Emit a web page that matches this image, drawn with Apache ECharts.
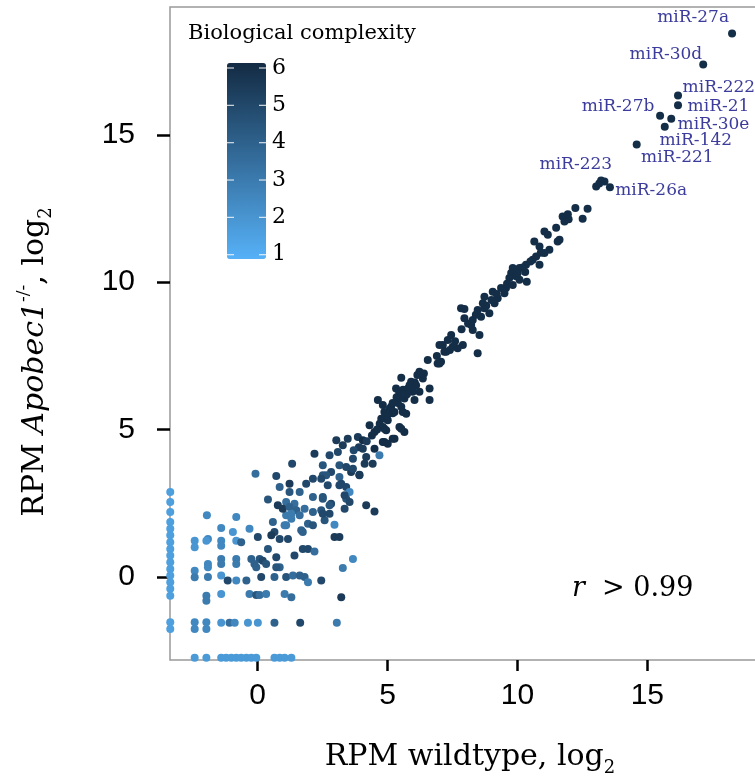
<!DOCTYPE html>
<html><head><meta charset="utf-8">
<script src="https://cdn.jsdelivr.net/npm/echarts@6/dist/echarts.min.js"></script>
<style>html,body{margin:0;padding:0;background:#fff;overflow:hidden}#c{width:755px;height:781px}</style>
</head><body><div id="c"></div><script>
// ---- tick labels ----
const xTicks = [0, 5, 10, 15];
const yTicks = [0, 5, 10, 15];
const legendTicks = [1, 2, 3, 4, 5, 6];

// ---- data: [RPM wildtype log2, RPM Apobec1-/- log2, biological complexity] ----
const upperBand = [
  [11.74,12.23,6],[11.94,12.31,6],[12.23,12.52,6],[12.70,12.49,6],[12.51,12.15,6],[11.81,12.06,6],[11.49,11.85,6],
  [11.97,12.14,6],[11.04,11.72,6],[11.17,11.61,6],[11.55,11.38,6],[11.62,11.44,6],[10.65,11.38,6],[10.85,11.21,6],
  [11.23,11.10,6],[11.04,10.99,6],[10.72,10.87,6],[10.59,10.76,6],[10.85,10.59,6],[10.33,10.59,6],[10.08,10.48,6],
  [9.82,10.48,6],[9.76,10.31,6],[10.01,10.31,6],[9.69,10.14,6],[10.08,10.08,6],[10.36,10.02,6],[9.82,9.91,6],
  [9.56,9.80,6],[9.37,9.80,6],[9.05,9.68,6],[9.50,9.63,6],[8.73,9.51,6],[9.24,9.46,6],[9.12,9.29,6],[8.67,9.29,6],
  [8.73,9.12,6],[8.47,9.06,6],[8.92,8.95,6],[7.83,9.12,6],[7.96,9.09,6],[7.96,8.78,6],[8.28,8.72,6],[8.60,8.83,6],
  [8.22,8.55,6],[8.28,8.38,6],[8.54,8.21,6],[7.45,8.21,6],[7.32,8.04,6],[7.90,7.87,6],[7.70,7.76,6],[7.51,7.81,6],
  [7.13,7.87,6],[7.19,7.64,6],[8.47,7.59,6],[7.06,7.30,6],[7.00,7.87,6],[7.26,7.64,6],
  [10.20,10.50,6],[10.50,10.70,6],[10.90,11.00,6],[10.30,10.35,6],[9.95,10.20,6],[9.60,9.95,6],[9.20,9.60,6],
  [9.00,9.40,6],[8.80,9.20,6],[8.40,8.90,6],[8.10,8.60,6],[7.85,8.40,6],[7.60,8.00,6],[7.40,7.70,6],[6.90,7.50,6]
];
const middleBand = [
  [6.55,7.36,6],[6.23,6.96,6],[6.93,7.24,6],[5.53,6.76,6],[5.91,6.62,6],[6.36,6.73,6],[6.62,6.39,6],[6.62,6.00,6],
  [5.97,6.28,6],[5.33,6.39,6],[5.65,6.05,6],[6.04,6.00,6],[5.08,5.71,6],[4.82,5.83,6],[5.27,5.60,6],[5.59,5.60,6],
  [4.95,5.37,6],[5.46,5.09,6],[5.65,4.92,6],[4.88,5.03,6],[5.20,4.69,6],[4.82,4.58,6],[7.00,7.24,6],[6.23,6.28,6],
  [4.63,6.00,6],[5.14,5.77,6],[5.53,5.77,6],[4.88,5.60,6],[5.72,5.54,6],[4.76,5.37,6],[5.01,5.32,6],[4.31,5.15,6],
  [5.53,5.03,6],[4.82,5.09,6],[4.95,4.98,6],[3.86,4.75,5.5],[4.50,4.92,6],[3.47,4.69,5.5],[3.03,4.64,5.5],[4.05,4.64,6],
  [5.27,4.69,6],[4.88,4.58,6],[4.50,4.35,6],[5.01,4.52,6],[4.05,4.35,5.5],[3.28,4.47,5.5],[3.09,4.24,5],[2.77,4.13,5],
  [4.18,4.07,5.5],[3.67,4.01,5],[4.69,4.13,3],[4.43,3.84,5.5],[4.12,3.84,5.5],[3.15,3.79,4.5],[2.51,3.79,4.5],
  [3.41,3.73,5],[3.67,3.67,5],[3.92,3.45,5.5],[2.64,3.45,4.5],[2.45,3.33,5],[3.15,3.39,4],[3.22,3.16,5],[2.70,3.11,5],
  [3.54,2.88,2.5],[3.35,2.77,5],[2.51,2.71,4.5],[4.18,2.43,5.5],[4.50,2.22,5.5],[3.35,2.31,5],[2.77,2.43,4.5],[2.51,2.14,5],
  [5.35,6.10,6],[5.45,6.25,6],[5.60,6.35,6],[5.75,6.20,6],[5.85,6.50,6],[6.05,6.60,6],[6.15,6.85,6],[5.40,5.90,6],
  [5.20,5.55,6],[5.00,5.50,6],[4.70,5.20,6],[4.60,5.00,6],[4.40,4.80,6],[4.20,4.60,5.5],[3.90,4.40,5.5],[3.70,4.30,5],
  [6.40,6.90,6],[6.10,6.50,6],[5.80,6.40,6],[5.50,6.10,6],[5.20,5.90,6],[1.33,3.84,5],[2.19,4.18,5.5]
];
const lowerCluster = [
  [2.83,3.56,5],[2.51,3.45,4.5],[3.60,3.56,5.5],[3.92,3.47,5.5],[2.13,3.33,5],[1.87,3.16,5],[3.15,3.11,5],[3.41,3.05,5],
  [1.23,3.16,5.5],[1.23,2.88,4.5],[1.62,2.88,4],[2.13,2.71,4],[2.51,2.65,4.5],[2.83,2.48,5],[3.41,2.65,4.5],[3.54,2.54,5],
  [1.10,2.54,3.5],[1.42,2.48,3.5],[1.49,2.26,4],[1.81,2.31,3.5],[2.13,2.20,4],[2.45,2.26,4.5],[2.77,2.14,5],[2.58,1.92,4.5],
  [1.10,2.09,3],[1.30,1.97,3],[1.62,2.09,3.5],[1.94,1.80,4],[2.13,1.75,4.5],[1.10,1.75,3],[1.68,1.58,4],[1.74,1.52,4],
  [2.96,1.77,2.5],[2.96,1.35,5.5],[3.15,1.35,5.5],[1.74,0.95,5],[1.94,0.95,5],[2.19,0.86,3.5],[1.42,0.73,5],[3.67,0.61,2.5],
  [3.28,0.30,3],[0.85,0.33,4],[1.10,0.00,4.5],[1.36,0.05,3.5],[1.62,0.05,4],[1.81,0.00,4],[1.94,-0.18,3],[2.45,-0.12,5],
  [1.04,-0.58,3],[1.30,-0.69,3.5],[3.22,-0.69,5.5],[1.64,-1.56,5],[3.05,-1.56,3],
  [-0.08,3.50,3.5],[0.72,3.42,5],[0.85,3.05,4],[0.40,2.63,4.5],[0.78,2.43,5.5],[0.97,2.31,5.5],[1.23,2.37,4],[1.30,2.14,3],
  [0.59,1.86,4],[1.04,1.75,3],[0.65,1.52,5],[0.53,1.41,5.5],[0.85,1.29,5],[1.17,1.29,5],[0.01,1.35,5],[-0.31,1.63,2.5],
  [-1.95,2.09,2.5],[-0.82,2.03,2.5],[-1.40,1.66,2.5],[-0.95,1.52,2],[-0.82,1.23,2],[-0.63,1.18,4],[-2.42,1.23,2],[-2.42,1.01,2],
  [-1.91,1.29,2.5],[-1.97,1.23,2],[-1.40,1.23,2.5],[-1.40,1.06,2.5],[0.40,0.95,4.5],[0.08,0.61,4.5],[-0.24,0.61,4],[-0.12,0.44,4],
  [-0.05,0.33,4],[0.20,0.55,5],[0.33,0.44,4.5],[0.72,0.67,5],[0.72,0.33,4.5],[-1.40,0.61,3],[-1.40,0.44,3],[-0.82,0.61,3],
  [-0.82,0.44,3],[-1.91,0.44,2.5],[-1.91,0.33,2.5],[-2.42,0.21,2.5],[-2.42,-0.01,3],[-1.91,0.00,3],[-1.40,0.05,2],[-1.15,-0.12,5],
  [-0.82,-0.12,2.5],[-0.43,-0.12,4],[0.14,0.00,5],[0.65,0.00,4],[-1.40,-0.58,2],[-1.97,-0.64,3],[-1.97,-0.81,3],[-0.31,-0.58,3],
  [-0.05,-0.61,4.5],[0.08,-0.61,3.5],[0.33,-0.58,3],[-2.42,-1.54,2.5],[-2.42,-1.77,2.5],[-1.97,-1.54,2.5],[-1.97,-1.77,2.5],
  [-1.40,-1.56,2],[-1.08,-1.56,3.5],[-0.88,-1.56,2.5],[-0.37,-1.56,2],[0.01,-1.56,2],[0.65,-1.56,4]
];
const leftEdge = [
  [-3.36,2.88,1.6],[-3.36,2.54,1.6],[-3.36,2.20,1.6],[-3.36,1.86,1.6],[-3.36,1.63,1.6],[-3.36,1.41,1.6],[-3.36,1.18,1.6],
  [-3.36,0.95,1.6],[-3.36,0.73,1.6],[-3.36,0.50,1.6],[-3.36,0.27,1.6],[-3.36,0.05,1.6],[-3.36,-0.18,1.6],[-3.36,-0.40,1.6],
  [-3.36,-0.64,1.6],[-3.36,-1.54,1.6],[-3.36,-1.77,1.6]
];
const bottomRow = [
  [-2.42,-2.74,1.8],[-1.97,-2.74,1.8],[-1.40,-2.74,1.8],[-1.21,-2.74,1.8],[-1.01,-2.74,1.8],[-0.82,-2.74,1.8],[-0.63,-2.74,1.8],
  [-0.43,-2.74,1.8],[-0.24,-2.74,1.8],[-0.05,-2.74,1.8],[0.65,-2.74,1.8],[0.85,-2.74,1.8],[1.04,-2.74,1.8],[1.30,-2.74,1.8]
];
// labelled miRNAs
const mirNames = ['miR-27a','miR-30d','miR-222','miR-21','miR-27b','miR-30e','miR-142','miR-221','miR-223','miR-26a'];
const mirWT    = [18.26, 17.15, 16.18, 16.18, 15.49, 15.92, 15.67, 14.59, 13.22, 13.56];
const mirKO    = [18.44, 17.39, 16.34, 16.01, 15.65, 15.55, 15.28, 14.67, 13.45, 13.22];
const mirCx    = [6, 6, 6, 6, 6, 6, 6, 6, 6, 6];
const extraTop = [[13.03,13.25,6],[13.35,13.42,6],[13.15,13.35,6]];

// label offsets (style only): [dx, dy, align]
const labelOffsets = [[-3,-16,'right'],[-1,-10,'right'],[4.6,-8,'left'],[9.6,1.7,'left'],[-5.7,-9,'right'],
  [6.3,6,'left'],[-5.3,14,'left'],[4.4,13.3,'left'],[11,-16,'right'],[5.3,3.4,'left']];

const SERIF = 'DejaVu Serif';
const SANS = 'Liberation Sans';
const mainPts = [].concat(leftEdge, bottomRow, lowerCluster, middleBand, upperBand, extraTop);
const mirData = mirNames.map((n, i) => ({
  name: n, value: [mirWT[i], mirKO[i], mirCx[i]],
  label: { position: [labelOffsets[i][0] + 4, labelOffsets[i][1] + 4], align: labelOffsets[i][2] }
}));

// legend geometry (style)
const LG = { left: 227, top: 63, w: 39, h: 196, vmin: 0.885, vmax: 6.134 };
const vy = v => LG.top + (LG.vmax - v) / (LG.vmax - LG.vmin) * LG.h;
const graphics = [
  { type: 'text', left: 188, top: 23, style: { text: 'Biological complexity', font: '21px "DejaVu Serif"', fill: '#000' } },
  { type: 'text', left: 572, top: 575, style: { text: '{i|r}  > 0.99', rich: { i: { fontStyle: 'italic', fontSize: 27, fontFamily: SERIF } }, fontSize: 27, fontFamily: SERIF, fill: '#000' } },
  { type: 'text', x: 470, y: 757, style: {
      text: 'RPM wildtype, log{sub|2}', align: 'center', verticalAlign: 'middle', fill: '#000',
      fontSize: 30, fontFamily: SERIF, lineHeight: 40,
      rich: { sub: { fontSize: 18, fontFamily: SERIF, lineHeight: 18, verticalAlign: 'bottom' } } } },
  { type: 'text', x: 35, y: 362, rotation: Math.PI / 2, style: {
      text: 'RPM {it|Apobec1}{sup|-/-}, log{sub|2}', align: 'center', verticalAlign: 'middle', fill: '#000',
      fontSize: 30, fontFamily: SERIF, lineHeight: 40,
      rich: { it: { fontStyle: 'italic', fontSize: 30, fontFamily: SERIF, lineHeight: 40 },
              sup: { fontSize: 17, fontFamily: SERIF, lineHeight: 17, verticalAlign: 'top' },
              sub: { fontSize: 18, fontFamily: SERIF, lineHeight: 18, verticalAlign: 'bottom' } } } }
];
legendTicks.forEach(v => {
  const y = vy(v);
  graphics.push({ type: 'line', z: 100, shape: { x1: LG.left, y1: y, x2: LG.left + 7, y2: y }, style: { stroke: 'rgba(255,255,255,0.8)', lineWidth: 1.2 } });
  graphics.push({ type: 'line', z: 100, shape: { x1: LG.left + LG.w - 7, y1: y, x2: LG.left + LG.w, y2: y }, style: { stroke: 'rgba(255,255,255,0.8)', lineWidth: 1.2 } });
  graphics.push({ type: 'text', x: LG.left + LG.w + 6, y: y, style: { text: String(v), font: '22px "DejaVu Serif"', fill: '#000', verticalAlign: 'middle' } });
});

const chart = echarts.init(document.getElementById('c'));
chart.setOption({
  animation: false,
  backgroundColor: '#fff',
  grid: { left: 170, width: 600, top: 7, bottom: 121, show: true, borderColor: '#999', borderWidth: 1.5, backgroundColor: '#fff',
          containLabel: false, outerBoundsMode: 'none' },
  xAxis: {
    type: 'value', min: -3.37, max: 19.72, splitLine: { show: false }, axisLine: { show: false, onZero: false },
    axisTick: { show: true, customValues: xTicks, length: 11, lineStyle: { color: '#000', width: 2.5 } },
    axisLabel: { customValues: xTicks, fontSize: 30, fontFamily: SANS, color: '#000', margin: 21 }
  },
  yAxis: {
    type: 'value', min: -2.82, max: 19.34, splitLine: { show: false }, axisLine: { show: false, onZero: false },
    axisTick: { show: true, customValues: yTicks, length: 13, lineStyle: { color: '#000', width: 2.5 } },
    axisLabel: { customValues: yTicks, fontSize: 30, fontFamily: SANS, color: '#000', margin: 35 }
  },
  visualMap: {
    type: 'continuous', min: LG.vmin, max: LG.vmax, dimension: 2, seriesIndex: [0, 1],
    inRange: { color: ['#56B1F7', '#132B43'] }, calculable: false, hoverLink: false,
    orient: 'vertical', left: LG.left, top: LG.top, itemWidth: LG.w, itemHeight: LG.h, padding: 0,
    text: null, showLabel: false
  },
  series: [
    { type: 'scatter', symbolSize: 8, data: mainPts, clip: false, itemStyle: { opacity: 1 } },
    { type: 'scatter', symbolSize: 8, data: mirData, clip: false, itemStyle: { opacity: 1 },
      label: { show: true, formatter: '{b}', color: '#3c3c9c', fontSize: 17, fontFamily: SERIF, verticalAlign: 'middle' } }
  ],
  graphic: graphics
});
</script></body></html>
